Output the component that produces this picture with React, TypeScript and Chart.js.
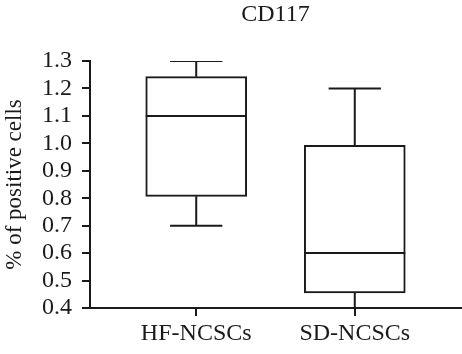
import React, { useEffect, useRef } from 'react';
import { Chart, registerables } from 'chart.js';

Chart.register(...registerables);

// ---- data ----
const categories = ['HF-NCSCs', 'SD-NCSCs'];
const positions = [1, 2];
const whiskerMin = [0.70, 0.30];
const quartile1 = [0.807, 0.455];
const medians = [1.10, 0.60];
const quartile3 = [1.243, 0.993];
const whiskerMax = [1.30, 1.20];
const yTickValues = [0.4, 0.5, 0.6, 0.7, 0.8, 0.9, 1.0, 1.1, 1.2, 1.3];
const chartTitle = 'CD117';
const yAxisTitle = '% of positive cells';

// ---- style ----
const FONT = "'Liberation Serif', 'DejaVu Serif', serif";
const INK = '#1a1a1a';
const CAP_HALF = 0.165; // in x-units

const boxPlugin = {
  id: 'boxWhiskers',
  afterDatasetsDraw(chart: any) {
    const { ctx, chartArea, scales } = chart;
    const xs = scales.x;
    const ys = scales.y;
    const meta = chart.getDatasetMeta(0);
    ctx.save();
    ctx.beginPath();
    ctx.rect(chartArea.left, chartArea.top, chartArea.right - chartArea.left, chartArea.bottom - chartArea.top);
    ctx.clip();
    ctx.strokeStyle = INK;
    ctx.lineWidth = 2;
    ctx.lineCap = 'butt';
    positions.forEach((pos, i) => {
      const px = xs.getPixelForValue(pos);
      const bar = meta.data[i];
      const half = bar ? bar.width / 2 : 50;
      const capL = xs.getPixelForValue(pos - CAP_HALF);
      const capR = xs.getPixelForValue(pos + CAP_HALF);
      const yMax = ys.getPixelForValue(whiskerMax[i]);
      const yMin = ys.getPixelForValue(whiskerMin[i]);
      const yQ1 = ys.getPixelForValue(quartile1[i]);
      const yQ3 = ys.getPixelForValue(quartile3[i]);
      const yMed = ys.getPixelForValue(medians[i]);
      ctx.beginPath();
      ctx.moveTo(px, yQ3);
      ctx.lineTo(px, yMax);
      ctx.moveTo(capL, yMax);
      ctx.lineTo(capR, yMax);
      ctx.moveTo(px, yQ1);
      ctx.lineTo(px, yMin);
      ctx.moveTo(capL, yMin);
      ctx.lineTo(capR, yMin);
      ctx.moveTo(px - half, yMed);
      ctx.lineTo(px + half, yMed);
      ctx.stroke();
    });
    ctx.restore();
  },
};

export default function App() {
  const ref = useRef<HTMLCanvasElement | null>(null);
  useEffect(() => {
    if (!ref.current) return;
    const chart = new Chart(ref.current, {
      type: 'bar',
      data: {
        datasets: [
          {
            data: positions.map((x, i) => ({ x, y: [quartile1[i], quartile3[i]] })) as any,
            backgroundColor: '#ffffff',
            borderColor: INK,
            borderWidth: 2,
            borderSkipped: false,
            barThickness: 101,
          },
        ],
      },
      options: {
        responsive: false,
        animation: false,
        layout: { padding: { top: 0, right: 1, bottom: 0, left: 0 } },
        plugins: {
          legend: { display: false },
          tooltip: { enabled: false },
          title: {
            display: true,
            text: chartTitle,
            fullSize: false,
            color: INK,
            font: { family: FONT, size: 24, weight: 'normal' },
            padding: { top: 0, bottom: 32.2 },
          },
        },
        scales: {
          x: {
            type: 'linear',
            offset: false,
            min: 0.33,
            max: 2.67,
            afterBuildTicks: (scale: any) => {
              scale.ticks = positions.map((v) => ({ value: v }));
            },
            afterFit: (scale: any) => {
              scale.height = 46;
            },
            ticks: {
              color: INK,
              font: { family: FONT, size: 24 },
              padding: 3,
              maxRotation: 0,
              autoSkip: false,
              callback: (v: any) => {
                const idx = positions.indexOf(Number(v));
                return idx >= 0 ? categories[idx] : '';
              },
            },
            grid: { offset: false, drawOnChartArea: false, tickLength: 8, tickColor: INK, lineWidth: 2 },
            border: { color: INK, width: 2 },
          },
          y: {
            type: 'linear',
            min: 0.4,
            max: 1.3,
            afterBuildTicks: (scale: any) => {
              scale.ticks = yTickValues.map((v) => ({ value: v }));
            },
            afterFit: (scale: any) => {
              scale.width = 90;
            },
            ticks: {
              color: INK,
              font: { family: FONT, size: 24 },
              padding: 10,
              autoSkip: false,
              callback: (v: any) => Number(v).toFixed(1),
            },
            title: {
              display: true,
              text: yAxisTitle,
              color: INK,
              font: { family: FONT, size: 23 },
              padding: { top: 1, bottom: 0 },
            },
            grid: { drawOnChartArea: false, tickLength: 8, tickColor: INK, lineWidth: 2 },
            border: { color: INK, width: 2 },
          },
        },
      },
      plugins: [boxPlugin],
    });
    return () => chart.destroy();
  }, []);
  return (
    <div style={{ position: 'fixed', left: 0, top: 0, width: 462, height: 354, background: '#fff' }}>
      <canvas ref={ref} width={462} height={354} />
    </div>
  );
}
